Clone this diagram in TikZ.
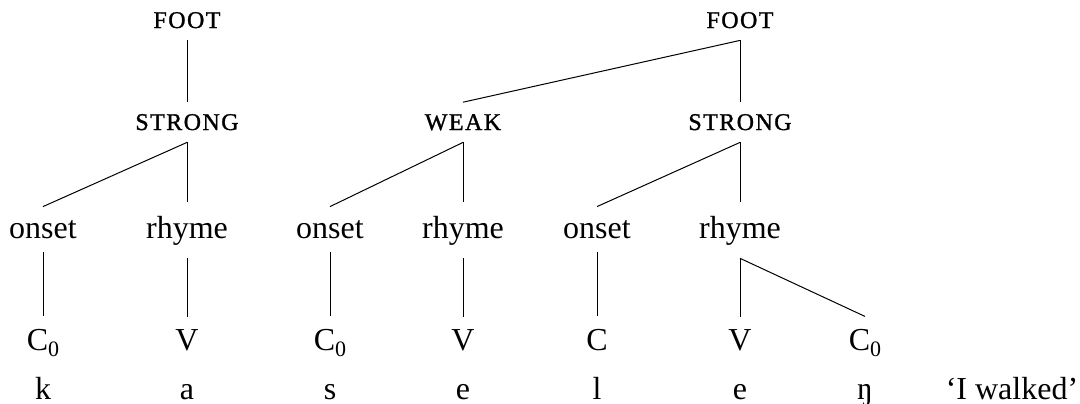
\documentclass[tikz,border=0pt]{standalone}
\usepackage{fontspec}
\setmainfont{Liberation Serif}
\newfontfamily\catfont[LetterSpace=6,FakeBold=1.2]{Liberation Serif}
\usetikzlibrary{positioning}
\tikzset{
  treecat/.style={font=\fontsize{12}{14}\catfont, inner xsep=2pt, inner ysep=6pt, text height=7.7pt, text depth=0pt, anchor=base},
  treeunit/.style={font=\fontsize{16}{19}\selectfont, inner xsep=2pt, inner ysep=6.5pt, anchor=base},
  treeseg/.style={font=\fontsize{16}{19}\selectfont, inner xsep=2pt, inner ysep=6pt, text depth=0pt, anchor=base},
  treeform/.style={font=\fontsize{16}{19}\selectfont, inner sep=2pt, anchor=base},
  treeline/.style={line width=0.5pt},
}
\newcommand{\subnull}{\raisebox{-3pt}{\fontsize{11}{11}\selectfont 0}}

\begin{document}
\begin{tikzpicture}[x=0.5pt,y=-0.5pt]
		\useasboundingbox (0,0) rectangle (1080,403);

		% Top: metrical categories
		\node[treecat] (foota) at (187,28) {FOOT};
		\node[treecat] (footb) at (740,28) {FOOT};
		\node[treecat] (stronga) at (187,130) {STRONG};
		\node[treecat] (weak) at (463,130) {WEAK};
		\node[treecat] (strongb) at (740,130) {STRONG};

		% Middle: syllable constituents
		\node[treeunit] (onseta) at (43,238) {onset};
		\node[treeunit] (rhymea) at (187,238) {rhyme};
		\node[treeunit] (onsetb) at (330,238) {onset};
		\node[treeunit] (rhymeb) at (463,238) {rhyme};
		\node[treeunit] (onsetc) at (597,238) {onset};
		\node[treeunit] (rhymec) at (740,238) {rhyme};

		% Skeletal slots
		\node[treeseg] (slota) at (43,350) {C\subnull};
		\node[treeseg] (slotb) at (187,350) {V};
		\node[treeseg] (slotc) at (330,350) {C\subnull};
		\node[treeseg] (slotd) at (463,350) {V};
		\node[treeseg] (slote) at (597,350) {C};
		\node[treeseg] (slotf) at (740,350) {V};
		\node[treeseg] (slotg) at (865,350) {C\subnull};

		% Bottom: segments and gloss
		\node[treeform] (sega) at (43,399) {k};
		\node[treeform] (segb) at (187,399) {a};
		\node[treeform] (segc) at (330,399) {s};
		\node[treeform] (segd) at (463,399) {e};
		\node[treeform] (sege) at (597,399) {l};
		\node[treeform] (segf) at (740,399) {e};
		\node[treeform] (segg) at (865,399) {ŋ};
		\node[treeform] (gloss) at (1012,399) {‘I walked’};

		% Branches
		\draw[treeline] (foota.south) -- (stronga.north);
		\draw[treeline] (footb.south) -- (weak.north);
		\draw[treeline] (footb.south) -- (strongb.north);
		\draw[treeline] (stronga.south) -- (onseta.north);
		\draw[treeline] (stronga.south) -- (rhymea.north);
		\draw[treeline] (weak.south) -- (onsetb.north);
		\draw[treeline] (weak.south) -- (rhymeb.north);
		\draw[treeline] (strongb.south) -- (onsetc.north);
		\draw[treeline] (strongb.south) -- (rhymec.north);
		\draw[treeline] (onseta.south) -- (slota.north);
		\draw[treeline] (rhymea.south) -- (slotb.north);
		\draw[treeline] (onsetb.south) -- (slotc.north);
		\draw[treeline] (rhymeb.south) -- (slotd.north);
		\draw[treeline] (onsetc.south) -- (slote.north);
		\draw[treeline] (rhymec.south) -- (slotf.north);
		\draw[treeline] (rhymec.south) -- (slotg.north);
	\end{tikzpicture}
\end{document}
